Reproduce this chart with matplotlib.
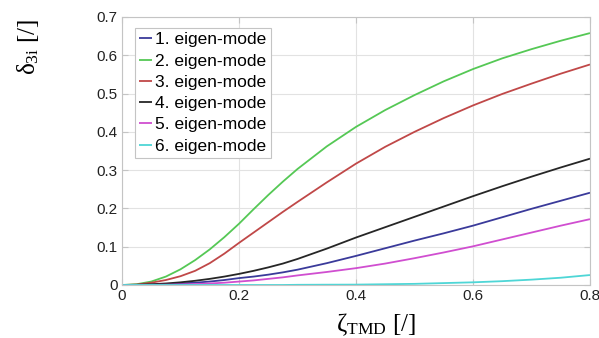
import matplotlib
matplotlib.use("Agg")
import matplotlib.pyplot as plt

zeta = [0.0, 0.025, 0.05, 0.075, 0.1, 0.125, 0.15, 0.175, 0.2, 0.225, 0.25, 0.275, 0.3,
        0.35, 0.4, 0.45, 0.5, 0.55, 0.6, 0.65, 0.7, 0.75, 0.8]
mode1 = [0.0, 0.0002, 0.001, 0.002, 0.004, 0.006, 0.009, 0.013, 0.018, 0.022, 0.027, 0.033, 0.040,
         0.057, 0.076, 0.096, 0.116, 0.135, 0.155, 0.177, 0.199, 0.220, 0.241]
mode2 = [0.0, 0.002, 0.009, 0.022, 0.041, 0.065, 0.093, 0.125, 0.160, 0.198, 0.235, 0.270, 0.303,
         0.362, 0.413, 0.457, 0.496, 0.532, 0.564, 0.592, 0.616, 0.638, 0.658]
mode3 = [0.0, 0.001, 0.006, 0.013, 0.023, 0.037, 0.057, 0.082, 0.110, 0.137, 0.164, 0.191, 0.217,
         0.268, 0.317, 0.361, 0.400, 0.436, 0.469, 0.499, 0.526, 0.552, 0.576]
mode4 = [0.0, 0.0005, 0.002, 0.004, 0.007, 0.011, 0.016, 0.022, 0.029, 0.037, 0.046, 0.056, 0.068,
         0.095, 0.124, 0.151, 0.178, 0.205, 0.232, 0.258, 0.283, 0.307, 0.330]
mode5 = [0.0, 0.0, 0.0003, 0.0008, 0.0015, 0.0025, 0.004, 0.006, 0.009, 0.012, 0.016, 0.020, 0.025,
         0.034, 0.044, 0.056, 0.070, 0.085, 0.101, 0.119, 0.137, 0.155, 0.172]
mode6 = [0.0, 0.0, 0.0, 0.0, 0.0, 0.0, 0.0, 0.0, 0.0, 0.0, 0.0, 0.0, 0.0005,
         0.0008, 0.001, 0.002, 0.003, 0.005, 0.007, 0.010, 0.014, 0.019, 0.026]
labels = ["1. eigen-mode", "2. eigen-mode", "3. eigen-mode", "4. eigen-mode", "5. eigen-mode", "6. eigen-mode"]
colors = ["#3a3a9a", "#55c855", "#c04848", "#262626", "#d04ed0", "#4ed6d6"]
xticks = [0, 0.2, 0.4, 0.6, 0.8]
xticklabels = ["0", "0.2", "0.4", "0.6", "0.8"]
yticks = [0, 0.1, 0.2, 0.3, 0.4, 0.5, 0.6, 0.7]
yticklabels = ["0", "0.1", "0.2", "0.3", "0.4", "0.5", "0.6", "0.7"]

plt.rcParams['font.family'] = ['Liberation Sans', 'DejaVu Sans']

fig = plt.figure(figsize=(5.99, 3.38), dpi=100)
ax = fig.add_axes([122/599, 1-285/338, (590-122)/599, (285-17)/338])

for ys, c, lab in zip([mode1, mode2, mode3, mode4, mode5, mode6], colors, labels):
    ax.plot(zeta, ys, color=c, lw=1.3, label=lab, clip_on=False, solid_capstyle="butt")

ax.set_xlim(0, 0.8)
ax.set_ylim(0, 0.7)
ax.set_xticks(xticks)
ax.set_xticklabels(xticklabels)
ax.set_yticks(yticks)
ax.set_yticklabels(yticklabels)
ax.grid(True, color="#e2e2e2", lw=0.8)
ax.set_axisbelow(True)
for s in ax.spines.values():
    s.set_color("#c4c4c4")
    s.set_linewidth(0.8)
ax.tick_params(direction="in", length=4, color="#c4c4c4", labelsize=11, labelcolor="#222222",
               pad=3, top=True, right=True)

leg = ax.legend(loc="upper left", bbox_to_anchor=(0.028, 0.959), fontsize=12.5, handlelength=0.75,
                handletextpad=0.15, labelspacing=0.35, borderpad=0.25, fancybox=False,
                framealpha=1, edgecolor="#c4c4c4", borderaxespad=0)
leg.get_frame().set_linewidth(0.8)

fig.text(28/599, 1-47/338, r"$\mathregular{\delta_{3i}}$ [/]", rotation=90, ha="center", va="center",
         fontsize=18, family=["Liberation Serif", "DejaVu Serif"])
fig.text(376/599, 1-325/338, r"$\mathregular{\zeta_{TMD}}$ [/]", ha="center", va="center",
         fontsize=18, family=["Liberation Serif", "DejaVu Serif"])

fig.savefig("out.png", dpi=100)
